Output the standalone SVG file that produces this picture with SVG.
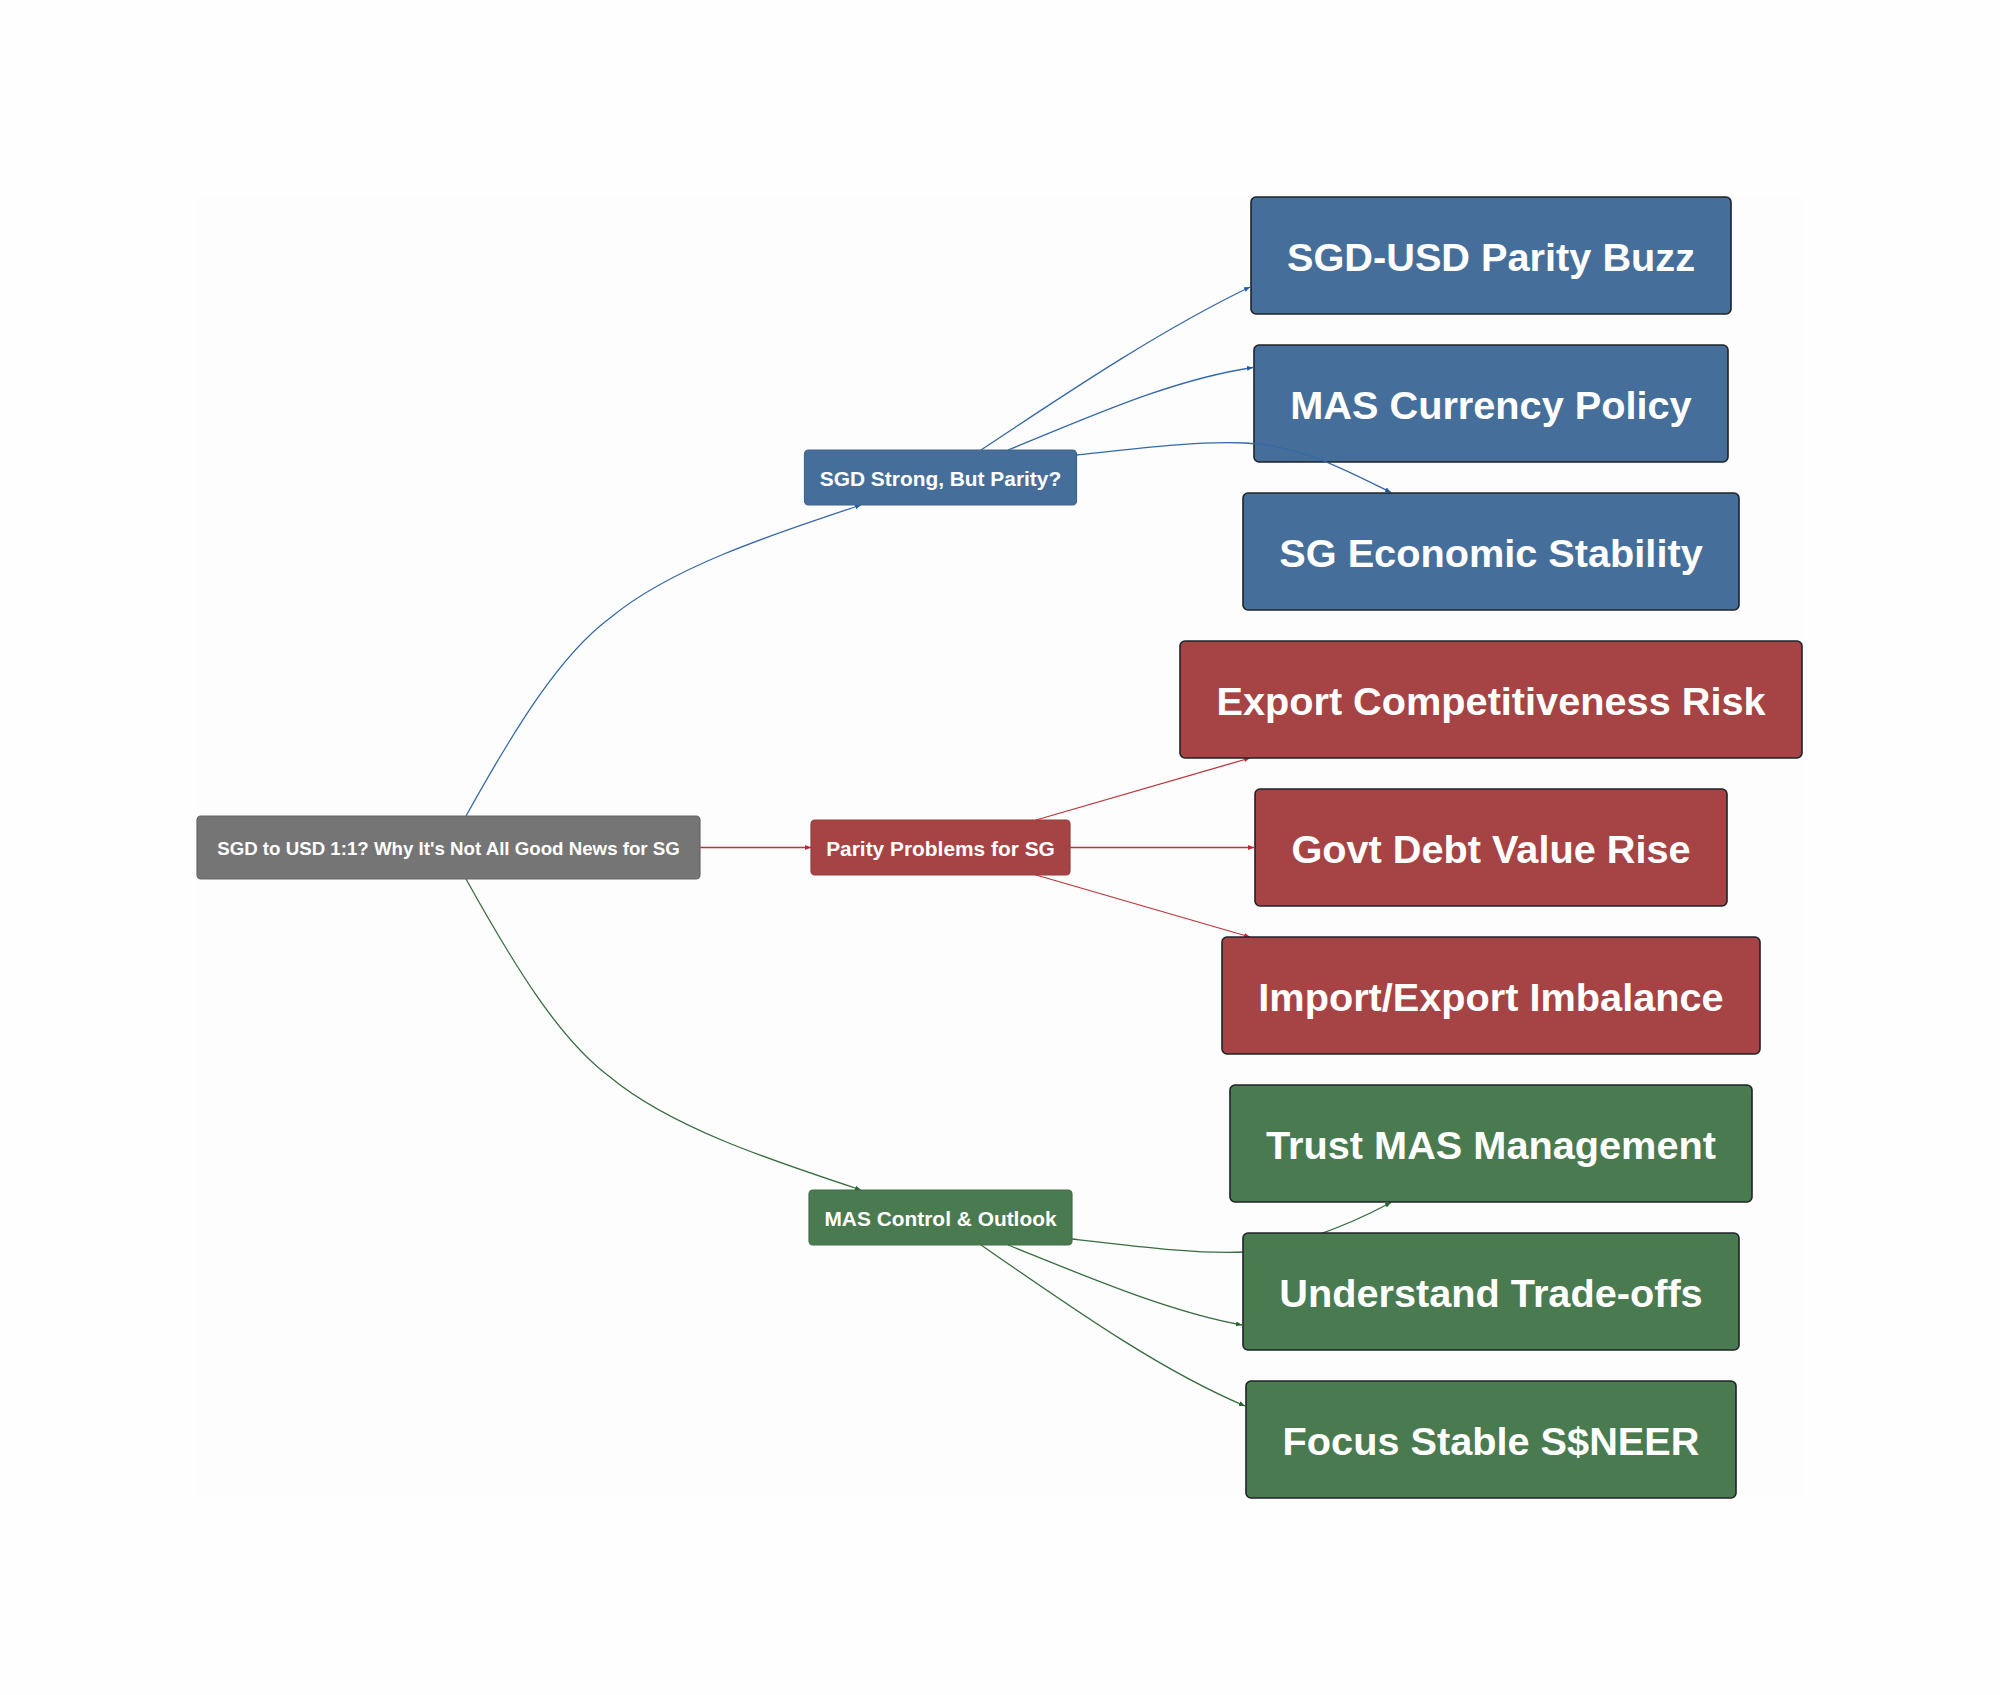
<svg xmlns="http://www.w3.org/2000/svg" width="2000" height="1695" viewBox="0 0 2000 1695">
<style>
text{font-family:"Liberation Sans",Arial,sans-serif;font-weight:700;fill:#fff;text-anchor:middle;dominant-baseline:central}
.s{font-size:20.900px}.r{font-size:18.700px}.l{font-size:39.700px}
.n{stroke-width:1.2}
.lf{stroke:#1f2328;stroke-width:1.6}
.bl{fill:#456f9a}.rd{fill:#a64344}.gr{fill:#4a7a4f}
.e{fill:none;stroke-width:1.3}
.eb{stroke:#3568a8}.er{stroke:#bb3439}.eg{stroke:#376d3e}
</style>
<defs>
<marker id="mb" markerWidth="7" markerHeight="7" refX="6" refY="3.500" orient="auto" markerUnits="userSpaceOnUse"><path d="M0 1L6 3.500L0 6Z" fill="#1f5aa8"/></marker>
<marker id="mr" markerWidth="7" markerHeight="7" refX="6" refY="3.500" orient="auto" markerUnits="userSpaceOnUse"><path d="M0 1L6 3.500L0 6Z" fill="#c0282d"/></marker>
<marker id="mg" markerWidth="7" markerHeight="7" refX="6" refY="3.500" orient="auto" markerUnits="userSpaceOnUse"><path d="M0 1L6 3.500L0 6Z" fill="#24662c"/></marker>
</defs>
<rect width="2000" height="1695" fill="#fefefe"/>
<rect x="197" y="197" width="1606" height="1301" fill="#fdfdfd"/>
<g id="a2"><rect class="lf bl" x="1254" y="345" width="474" height="117" rx="5"/><text class="l" x="1491" y="405">MAS Currency Policy</text></g>
<g id="connectors">
<path class="e eb" marker-end="url(#mb)" d="M466 816C515 728 560 655 610 618C670 568 770 535 861 505"/>
<path class="e er" marker-end="url(#mr)" d="M700 847.500H811"/>
<path class="e eg" marker-end="url(#mg)" d="M466 879C515 967 560 1040 610 1077C670 1127 770 1160 861 1190"/>
<path class="e eb" marker-end="url(#mb)" d="M981 450C1080 384 1165 328 1250 287"/>
<path class="e eb" marker-end="url(#mb)" d="M1008 450C1090 417 1170 380 1253 367.500"/>
<path class="e eb" marker-end="url(#mb)" d="M1077 455C1150 447 1200 441 1245 443C1300 445 1345 470 1391 492.500"/>
<path class="e er" marker-end="url(#mr)" d="M1036 820L1250 758"/>
<path class="e er" marker-end="url(#mr)" d="M1070 847.500H1254"/>
<path class="e er" marker-end="url(#mr)" d="M1036 875L1250 937"/>
<path class="e eg" marker-end="url(#mg)" d="M1072 1239C1150 1248 1200 1254 1245 1252C1280 1250 1340 1230 1391 1202.500"/>
<path class="e eg" marker-end="url(#mg)" d="M1008 1245C1090 1278 1170 1312 1242 1325"/>
<path class="e eg" marker-end="url(#mg)" d="M981 1245C1075 1310 1160 1370 1245 1406"/>
</g>
<g id="root"><rect class="n" x="197" y="816" width="503" height="63" rx="4" fill="#757575" stroke="#666"/><text class="r" x="448.500" y="848">SGD to USD 1:1? Why It's Not All Good News for SG</text></g>
<g id="a"><rect class="n bl" x="804.500" y="450" width="272" height="55" rx="4" stroke="#3f6489"/><text class="s" x="940.500" y="478">SGD Strong, But Parity?</text></g>
<g id="b"><rect class="n rd" x="811" y="820" width="259" height="55" rx="4" stroke="#933e3f"/><text class="s" x="940.500" y="848">Parity Problems for SG</text></g>
<g id="c"><rect class="n gr" x="809" y="1190" width="263" height="55" rx="4" stroke="#436e47"/><text class="s" x="940.500" y="1218">MAS Control &amp; Outlook</text></g>
<g id="a1"><rect class="lf bl" x="1251" y="197" width="480" height="117" rx="5"/><text class="l" x="1491" y="257">SGD-USD Parity Buzz</text></g>
<g id="a3"><rect class="lf bl" x="1243" y="493" width="496" height="117" rx="5"/><text class="l" x="1491" y="553">SG Economic Stability</text></g>
<g id="b1"><rect class="lf rd" x="1180" y="641" width="622" height="117" rx="5"/><text class="l" x="1491" y="701">Export Competitiveness Risk</text></g>
<g id="b2"><rect class="lf rd" x="1255" y="789" width="472" height="117" rx="5"/><text class="l" x="1491" y="849">Govt Debt Value Rise</text></g>
<g id="b3"><rect class="lf rd" x="1222" y="937" width="538" height="117" rx="5"/><text class="l" x="1491" y="997">Import/Export Imbalance</text></g>
<g id="c1"><rect class="lf gr" x="1230" y="1085" width="522" height="117" rx="5"/><text class="l" x="1491" y="1145">Trust MAS Management</text></g>
<g id="c2"><rect class="lf gr" x="1243" y="1233" width="496" height="117" rx="5"/><text class="l" x="1491" y="1293">Understand Trade-offs</text></g>
<g id="c3"><rect class="lf gr" x="1246" y="1381" width="490" height="117" rx="5"/><text class="l" x="1491" y="1441">Focus Stable S$NEER</text></g>
</svg>
